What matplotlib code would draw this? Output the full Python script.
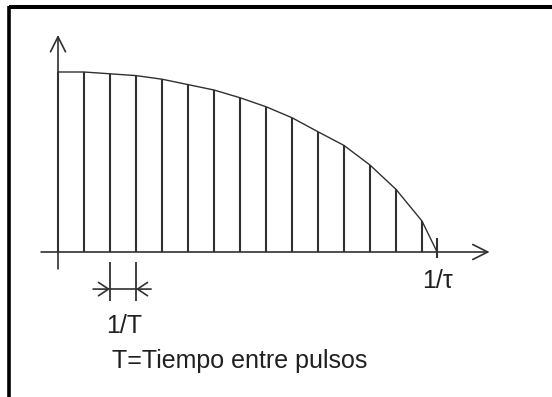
import matplotlib.pyplot as plt

# Espectro: alturas de las líneas (en unidades de 1/T)
harmonics = [0, 1, 2, 3, 4, 5, 6, 7, 8, 9, 10, 11, 12, 13, 14]
amplitudes = [1.0, 1.0, 0.99, 0.98, 0.96, 0.93, 0.90, 0.857, 0.807,
              0.746, 0.668, 0.592, 0.483, 0.348, 0.172]
x_tau = 14.58  # posición de 1/tau

# Envolvente: pasa por las puntas de las líneas y termina en 1/tau
env_x = harmonics + [x_tau]
env_y = amplitudes + [0.0]

ink = '#303030'
plt.rcParams['font.family'] = ['Liberation Sans', 'DejaVu Sans']

fig = plt.figure(figsize=(5.52, 3.97), dpi=100)
ax = fig.add_axes([0, 0, 1, 1])
ax.set_xlim(-58 / 26, (552 - 58) / 26)
ax.set_ylim((252 - 397) / 180, 252 / 180)
ax.axis('off')

# Marco (solo arriba e izquierda)
ax.plot([0.0163, 1.0], [0.982, 0.982], color='black', lw=2.9,
        transform=ax.transAxes, solid_capstyle='butt', clip_on=False)
ax.plot([0.0163, 0.0163], [0.0, 0.985], color='black', lw=2.6,
        transform=ax.transAxes, solid_capstyle='butt', clip_on=False)

# Ejes con flecha
arrow = dict(arrowstyle='->,head_length=0.6,head_width=0.3', lw=1.2,
             color=ink, mutation_scale=18, shrinkA=0, shrinkB=0)
ax.annotate('', xy=(0, 1.206), xytext=(0, -0.094), arrowprops=arrow)
ax.annotate('', xy=(16.6, 0), xytext=(-0.65, 0), arrowprops=arrow)

# Líneas espectrales y envolvente
ax.vlines(harmonics, 0, amplitudes, color=ink, lw=1.5)
ax.plot(env_x, env_y, color=ink, lw=1.0)
ax.vlines(x_tau, -0.033, 0.078, color=ink, lw=1.5)

# Cota 1/T entre dos líneas
ax.vlines([2, 3], -0.272, -0.056, color=ink, lw=1.3)
ax.plot([2, 3], [-0.206, -0.206], color=ink, lw=1.2)
small = dict(arrow, arrowstyle='->,head_length=0.45,head_width=0.3', mutation_scale=16)
ax.annotate('', xy=(2, -0.206), xytext=(1.35, -0.206), arrowprops=small)
ax.annotate('', xy=(3, -0.206), xytext=(3.58, -0.206), arrowprops=small)

# Textos
ax.text(1.85, -0.45, '1/T', fontsize=18, color='#202020', va='baseline', ha='left')
ax.text(14.0, -0.20, '1/τ', fontsize=18, color='#202020', va='baseline', ha='left')
ax.text(2.08, -0.644, 'T=Tiempo entre pulsos', fontsize=18, color='#202020',
        va='baseline', ha='left')

fig.savefig('out.png', dpi=100)
